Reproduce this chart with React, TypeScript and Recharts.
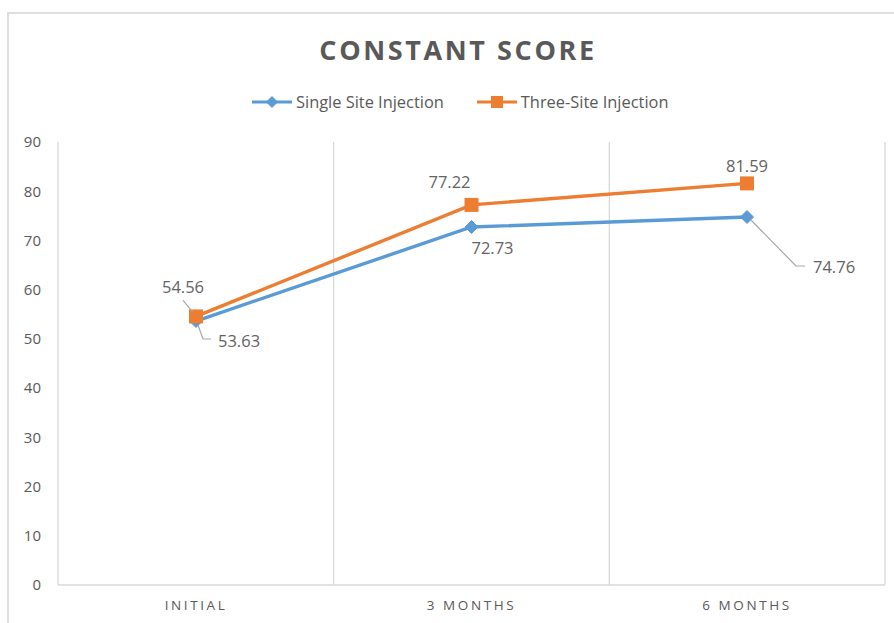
import { LineChart, Line, XAxis, YAxis, CartesianGrid, LabelList } from 'recharts';

const categories = ['INITIAL', '3 MONTHS', '6 MONTHS'];
const singleSite = [53.63, 72.73, 74.76];
const threeSite = [54.56, 77.22, 81.59];
const yTicks = [0, 10, 20, 30, 40, 50, 60, 70, 80, 90];

const data = categories.map((name, i) => ({
  name,
  single: singleSite[i],
  three: threeSite[i],
}));

const BLUE = '#5B9BD5';
const ORANGE = '#ED7D31';
const TEXT = '#595959';
const GRID = '#d9d9d9';
const FONT = '"Open Sans", "Noto Sans", sans-serif';

// label placement relative to the point (px), with optional leader line
type LabelPos = { dx: number; dy: number; anchor: 'start' | 'middle'; leader?: number[][] };

const SINGLE_LABELS: LabelPos[] = [
  { dx: 22, dy: 19, anchor: 'start', leader: [[2, 4], [7, 18], [15, 18]] },
  { dx: 21, dy: 20, anchor: 'middle' },
  { dx: 66, dy: 49, anchor: 'start', leader: [[4, 3], [49, 49], [58, 49]] },
];

const THREE_LABELS: LabelPos[] = [
  { dx: -13, dy: -30, anchor: 'middle', leader: [[-13, -16], [-3, -4]] },
  { dx: -22, dy: -23, anchor: 'middle' },
  { dx: 0, dy: -18, anchor: 'middle' },
];

const makeLabel = (positions: LabelPos[]) => (props: any) => {
  const { x, y, value, index } = props;
  const p = positions[index];
  if (!p) return null;
  return (
    <g key={`lbl-${index}`}>
      {p.leader && (
        <polyline
          points={p.leader.map(([a, b]) => `${x + a},${y + b}`).join(' ')}
          fill="none"
          stroke="#a6a6a6"
          strokeWidth={1.2}
        />
      )}
      <text
        x={x + p.dx}
        y={y + p.dy}
        textAnchor={p.anchor}
        dominantBaseline="central"
        fill="#636363"
        fontSize={16.5}
        fontFamily={FONT}
      >
        {value.toFixed(2)}
      </text>
    </g>
  );
};

const Diamond = ({ cx, cy, color, s = 6.5 }: any) => (
  <polygon
    points={`${cx},${cy - s} ${cx + s},${cy} ${cx},${cy + s} ${cx - s},${cy}`}
    fill={color}
    stroke={color}
  />
);

const Square = ({ cx, cy, color, s = 7 }: any) => (
  <rect x={cx - s} y={cy - s} width={s * 2} height={s * 2} fill={color} />
);

function LegendItem({ color, label, marker }: { color: string; label: string; marker: 'diamond' | 'square' }) {
  return (
    <div style={{ display: 'flex', alignItems: 'center', gap: 4 }}>
      <svg width={40} height={14}>
        <line x1={0} y1={7} x2={40} y2={7} stroke={color} strokeWidth={3} />
        {marker === 'diamond' ? (
          <Diamond cx={20} cy={7} color={color} s={5.5} />
        ) : (
          <Square cx={20} cy={7} color={color} s={6} />
        )}
      </svg>
      <span style={{ fontSize: 16.4, color: TEXT }}>{label}</span>
    </div>
  );
}

export default function App() {
  return (
    <div style={{ position: 'absolute', left: 0, top: 0, width: 894, height: 623, overflow: 'hidden', background: '#fff', fontFamily: FONT }}>
      {/* chart frame */}
      <div style={{ position: 'absolute', left: 7, top: 12, width: 900, height: 640, border: `2px solid #dedede` }} />

      {/* title */}
      <div style={{ position: 'absolute', left: 0, top: 31, width: 916, textAlign: 'center', fontSize: 27, fontWeight: 700, color: TEXT, letterSpacing: 2.6 }}>
        CONSTANT SCORE
      </div>

      {/* legend */}
      <div style={{ position: 'absolute', left: 252, top: 90, display: 'flex', gap: 33 }}>
        <LegendItem color={BLUE} label="Single Site Injection" marker="diamond" />
        <LegendItem color={ORANGE} label="Three-Site Injection" marker="square" />
      </div>

      <div style={{ position: 'absolute', left: 0, top: 0 }}>
        <LineChart width={894} height={623} data={data} margin={{ top: 142, right: 9, bottom: 8, left: 0 }}>
          <CartesianGrid
            horizontal={false}
            stroke={GRID}
            strokeWidth={1.3}
            verticalCoordinatesGenerator={({ offset }: any) =>
              [0, 1, 2, 3].map((i) => offset.left + (i * offset.width) / 3)
            }
          />
          <XAxis
            dataKey="name"
            height={30}
            padding={{ left: 138, right: 138 }}
            axisLine={{ stroke: GRID, strokeWidth: 1.3 }}
            tickLine={false}
            tickMargin={9}
            tick={{ fill: TEXT, fontSize: 13.5, letterSpacing: 2.6, fontFamily: FONT }}
          />
          <YAxis
            width={58}
            domain={[0, 90]}
            ticks={yTicks}
            axisLine={false}
            tickLine={false}
            tickMargin={11}
            tick={{ fill: TEXT, fontSize: 15, fontFamily: FONT }}
          />
          <Line
            dataKey="single"
            stroke={BLUE}
            strokeWidth={3.4}
            isAnimationActive={false}
            dot={(p: any) => <Diamond key={`d-${p.index}`} cx={p.cx} cy={p.cy} color={BLUE} />}
            activeDot={false}
          >
            <LabelList dataKey="single" content={makeLabel(SINGLE_LABELS)} />
          </Line>
          <Line
            dataKey="three"
            stroke={ORANGE}
            strokeWidth={3.4}
            isAnimationActive={false}
            dot={(p: any) => <Square key={`s-${p.index}`} cx={p.cx} cy={p.cy} color={ORANGE} />}
            activeDot={false}
          >
            <LabelList dataKey="three" content={makeLabel(THREE_LABELS)} />
          </Line>
        </LineChart>
      </div>
    </div>
  );
}
